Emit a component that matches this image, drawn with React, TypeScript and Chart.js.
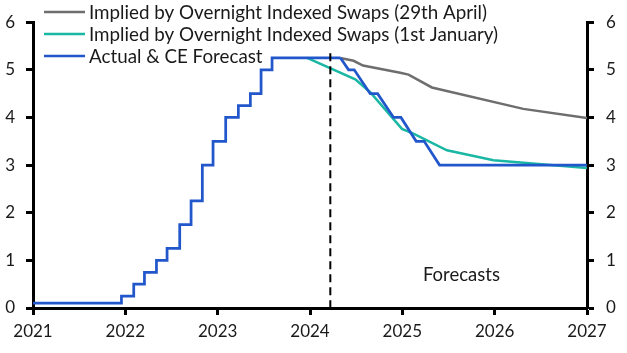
import React, { useEffect, useRef } from "react";
import { Chart, registerables } from "chart.js";

Chart.register(...registerables);

// Bank Rate (actual), step changes: date (decimal year) and new rate
const bankRateDates = [2021.0, 2021.958, 2022.091, 2022.207, 2022.337, 2022.452, 2022.589, 2022.712, 2022.834, 2022.95, 2023.087, 2023.224, 2023.354, 2023.47, 2023.589, 2024.33];
const bankRateValues = [0.1, 0.25, 0.5, 0.75, 1.0, 1.25, 1.75, 2.25, 3.0, 3.5, 4.0, 4.25, 4.5, 5.0, 5.25, 5.25];

// CE forecast path
const ceForecastDates = [2024.33, 2024.418, 2024.479, 2024.652, 2024.732, 2024.905, 2024.985, 2025.15, 2025.237, 2025.403, 2027.0];
const ceForecastValues = [5.25, 5.0, 5.0, 4.5, 4.5, 4.0, 4.0, 3.5, 3.5, 3.0, 3.0];

// OIS implied path, 29th April
const oisAprilDates = [2024.328, 2024.472, 2024.574, 2024.977, 2025.067, 2025.32, 2026.31, 2027.0];
const oisAprilValues = [5.25, 5.19, 5.09, 4.94, 4.9, 4.63, 4.18, 3.99];

// OIS implied path, 1st January
const oisJanDates = [2023.968, 2024.49, 2024.652, 2024.996, 2025.12, 2025.483, 2025.987, 2027.0];
const oisJanValues = [5.25, 4.8, 4.53, 3.76, 3.66, 3.31, 3.1, 2.94];

const yTicks = [0, 1, 2, 3, 4, 5, 6];
const xTickYears = [2021, 2022, 2023, 2024, 2025, 2026, 2027];

const legendLabels = [
  "Implied by Overnight Indexed Swaps (29th April)",
  "Implied by Overnight Indexed Swaps (1st January)",
  "Actual & CE Forecast",
];

const forecastStartLine = 2024.22;
const forecastLineTop = 5.35;
const forecastLabel = "Forecasts";
const forecastLabelX = 2025.64;
const forecastLabelY = 0.7;

const GRAY = "#6e6e6e";
const TEAL = "#1ab8a4";
const BLUE = "#2257cc";
const TEXT = "#1a1a1a";
const FONT = "Lato";

const pts = (xs: number[], ys: number[]) => xs.map((x, i) => ({ x, y: ys[i] }));

const overlay = {
  id: "overlay",
  afterDatasetsDraw(chart: any) {
    const { ctx, scales } = chart;
    const x = scales.x.getPixelForValue(forecastStartLine);
    ctx.save();
    ctx.strokeStyle = "#000";
    ctx.lineWidth = 2;
    ctx.setLineDash([8, 5]);
    ctx.beginPath();
    ctx.moveTo(x, scales.y.getPixelForValue(forecastLineTop));
    ctx.lineTo(x, scales.y.getPixelForValue(0));
    ctx.stroke();
    ctx.restore();
  },
  afterDraw(chart: any) {
    const { ctx, scales, chartArea } = chart;
    ctx.save();
    // Forecasts label
    ctx.fillStyle = TEXT;
    ctx.font = `18.5px ${FONT}`;
    ctx.textAlign = "center";
    ctx.textBaseline = "middle";
    ctx.fillText(forecastLabel, scales.x.getPixelForValue(forecastLabelX), scales.y.getPixelForValue(forecastLabelY));
    // Legend
    const colors = [GRAY, TEAL, BLUE];
    const rows = [12, 34, 56];
    ctx.font = `18.8px ${FONT}`;
    ctx.textAlign = "left";
    legendLabels.forEach((lab, i) => {
      ctx.strokeStyle = colors[i];
      ctx.lineWidth = 2.5;
      ctx.beginPath();
      ctx.moveTo(chartArea.left + 11, rows[i]);
      ctx.lineTo(chartArea.left + 52, rows[i]);
      ctx.stroke();
      ctx.fillStyle = TEXT;
      ctx.fillText(lab, chartArea.left + 56, rows[i] + 1);
    });
    ctx.restore();
  },
};

export default function App() {
  const ref = useRef<HTMLCanvasElement>(null);
  useEffect(() => {
    document.body.style.margin = "0";
    const canvas = ref.current!;
    const tickFont = { family: FONT, size: 17 };
    const yScale = (position: string, width: number, padding: number) => ({
      type: "linear",
      position,
      min: 0,
      max: 6,
      afterBuildTicks: (s: any) => {
        s.ticks = yTicks.map((v) => ({ value: v }));
      },
      ticks: { font: tickFont, color: TEXT, padding, callback: (v: any) => String(v) },
      grid: { drawOnChartArea: false, drawTicks: true, tickLength: 7, tickWidth: 3, tickColor: "#000" },
      border: { display: true, width: 3, color: "#000" },
      afterFit: (s: any) => {
        s.width = width;
      },
    });
    const chart = new Chart(canvas, {
      type: "line",
      data: {
        datasets: [
          { label: legendLabels[2], data: pts(bankRateDates, bankRateValues), borderColor: BLUE, borderWidth: 2.75, pointRadius: 0, stepped: true, order: 0 },
          { label: legendLabels[2] + " forecast", data: pts(ceForecastDates, ceForecastValues), borderColor: BLUE, borderWidth: 2.75, pointRadius: 0, order: 1 },
          { label: legendLabels[1], data: pts(oisJanDates, oisJanValues), borderColor: TEAL, borderWidth: 2.5, pointRadius: 0, order: 2 },
          { label: legendLabels[0], data: pts(oisAprilDates, oisAprilValues), borderColor: GRAY, borderWidth: 2.5, pointRadius: 0, order: 3 },
        ],
      },
      options: {
        responsive: false,
        animation: false,
        layout: { padding: { top: 16, left: 0, right: 0, bottom: 0 } },
        plugins: { legend: { display: false }, tooltip: { enabled: false } },
        scales: {
          x: {
            type: "linear",
            min: 2021,
            max: 2027,
            afterBuildTicks: (s: any) => {
              s.ticks = xTickYears.map((v) => ({ value: v }));
            },
            ticks: { font: tickFont, color: TEXT, padding: 6, maxRotation: 0, callback: (v: any) => String(v) },
            grid: { drawOnChartArea: false, drawTicks: true, tickLength: 7, tickWidth: 3, tickColor: "#000" },
            border: { display: true, width: 3, color: "#000" },
            afterFit: (s: any) => {
              s.height = 45;
            },
          },
          y: yScale("left", 33, 11),
          y2: yScale("right", 40, 12),
        },
      } as any,
      plugins: [overlay],
    });
    return () => chart.destroy();
  }, []);
  return <canvas ref={ref} width={627} height={353} style={{ display: "block" }} />;
}
